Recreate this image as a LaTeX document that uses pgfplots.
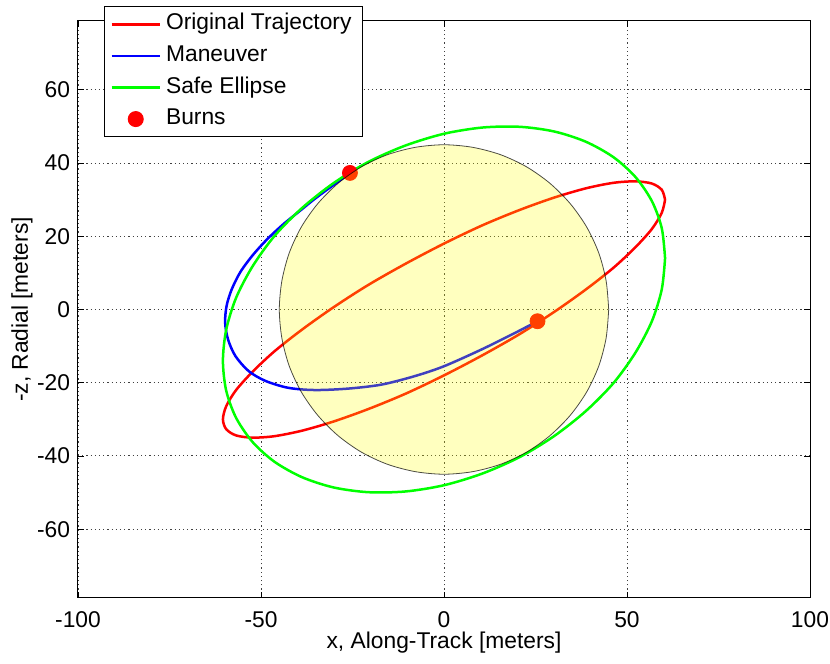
\documentclass[border=0pt]{standalone}
\usepackage{fontspec}
\setmainfont{Liberation Sans}
\usepackage{pgfplots}
\pgfplotsset{compat=1.18}
\begin{document}
\fontsize{11.4}{13.7}\selectfont
\begin{tikzpicture}
\useasboundingbox (-39pt,-33pt) rectangle (376pt,299pt);
\begin{axis}[
  at={(0,0)}, anchor=south west,
  scale only axis, width=366pt, height=288.5pt,
  xmin=-100, xmax=100, ymin=-78.8, ymax=78.8,
  xtick={-100,-50,0,50,100},
  ytick={-60,-40,-20,0,20,40,60},
  /pgf/number format/assume math mode=true,
  tick label style={font=\fontsize{11.4}{13.7}\selectfont},
  xticklabel style={yshift=-3pt},
  tick align=inside, major tick length=3pt,
  tick style={black, line width=0.4pt},
  axis line style={black, line width=0.5pt},
  grid=major,
  major grid style={black!75, line width=0.45pt, dash pattern=on 0.6pt off 1.5pt},
  xlabel={x, Along-Track [meters]},
  ylabel={-z, Radial [meters]},
  label style={font=\fontsize{11.4}{13.7}\selectfont},
  xlabel style={at={(axis description cs:0.5,-0.078)}, anchor=center},
  ylabel style={at={(axis description cs:-0.0765,0.5)}, anchor=center},
  legend style={at={(axis description cs:0.0355,1.026)}, anchor=north west,
    draw=black, line width=0.5pt, fill=white,
    font=\fontsize{11.4}{13.7}\selectfont,
    nodes={text height=8.2pt, text depth=2.5pt, inner sep=2.55pt},
    inner xsep=3pt, inner ysep=1pt},
  legend cell align=left,
  legend image code/.code={\draw[#1,mark repeat=2,mark phase=2] plot coordinates {(0pt,0pt) (12pt,0pt) (24pt,0pt)};},
  clip marker paths=true,
]
% Original trajectory
\addplot[color={rgb,255:red,255;green,0;blue,0}, line width=1.25pt, smooth, no markers] coordinates {
(60.4,30.0) (59.5,32.7) (56.8,34.4) (52.3,35.0) (46.3,34.6) (38.8,33.1) (30.2,30.6) (20.7,27.2) (10.5,23.0)
(0,18.0) (-10.5,12.5) (-20.7,6.7) (-30.2,0.6) (-38.8,-5.5) (-46.3,-11.4) (-52.3,-17.0) (-56.8,-22.0) (-59.5,-26.4)
(-60.4,-30.0) (-59.5,-32.7) (-56.8,-34.4) (-52.3,-35.0) (-46.3,-34.6) (-38.8,-33.1) (-30.2,-30.6) (-20.7,-27.2) (-10.5,-23.0)
(0,-18.0) (10.5,-12.5) (20.7,-6.7) (30.2,-0.6) (38.8,5.5) (46.3,11.4) (52.3,17.0) (56.8,22.0) (59.5,26.4) (60.4,30.0)
};
\addlegendentry{Original Trajectory}
% Maneuver
\addplot[color={rgb,255:red,0;green,0;blue,255}, line width=1.25pt, smooth, no markers] coordinates {
(25.55,-3.2) (19.4,-6.4) (10.3,-10.9) (0,-15.5) (-8,-18.2) (-17,-20.5) (-26.1,-21.6) (-35.2,-22.0)
(-42.5,-21.4) (-48.8,-19.5) (-53.4,-16.8) (-57,-12.7) (-59,-8.2) (-59.8,-3.6) (-59.4,1.0) (-58,5.5)
(-55.6,10.3) (-52.2,14.9) (-48.4,19.1) (-44,23.2) (-39.3,27.0) (-35.6,30.0) (-32,32.7) (-28.8,35.0) (-25.7,37.3)
};
\addlegendentry{Maneuver}
% Safe ellipse
\addplot[color={rgb,255:red,0;green,255;blue,0}, line width=1.25pt, smooth, no markers] coordinates {
(60.4,14.0) (59.5,22.2) (56.8,29.6) (52.3,36.2) (46.3,41.6) (38.8,45.8) (30.2,48.6) (20.7,49.9) (10.5,49.7)
(0,48.0) (-10.5,44.8) (-20.7,40.3) (-30.2,34.5) (-38.8,27.7) (-46.3,20.1) (-52.3,11.8) (-56.8,3.2) (-59.5,-5.5)
(-60.4,-14.0) (-59.5,-22.2) (-56.8,-29.6) (-52.3,-36.2) (-46.3,-41.6) (-38.8,-45.8) (-30.2,-48.6) (-20.7,-49.9) (-10.5,-49.7)
(0,-48.0) (10.5,-44.8) (20.7,-40.3) (30.2,-34.5) (38.8,-27.7) (46.3,-20.1) (52.3,-11.8) (56.8,-3.2) (59.5,5.5) (60.4,14.0)
};
\addlegendentry{Safe Ellipse}
% Burns
\addplot[only marks, mark=*, mark size=3.75pt, color={rgb,255:red,255;green,0;blue,0},
  mark options={draw={rgb,255:red,255;green,0;blue,0}, fill={rgb,255:red,255;green,0;blue,0}}] coordinates {
(-25.7,37.3) (25.55,-3.2)
};
\addlegendentry{Burns}
% Keep-out sphere (semi-transparent, on top)
\addplot[forget plot, smooth, draw=black, draw opacity=0.7, line width=0.4pt,
  fill={rgb,255:red,255;green,255;blue,0}, fill opacity=0.25] coordinates {
(45,0) (44.3,7.8) (42.3,15.4) (39.0,22.5) (34.5,28.9) (28.9,34.5) (22.5,39.0) (15.4,42.3) (7.8,44.3)
(0,45) (-7.8,44.3) (-15.4,42.3) (-22.5,39.0) (-28.9,34.5) (-34.5,28.9) (-39.0,22.5) (-42.3,15.4) (-44.3,7.8)
(-45,0) (-44.3,-7.8) (-42.3,-15.4) (-39.0,-22.5) (-34.5,-28.9) (-28.9,-34.5) (-22.5,-39.0) (-15.4,-42.3) (-7.8,-44.3)
(0,-45) (7.8,-44.3) (15.4,-42.3) (22.5,-39.0) (28.9,-34.5) (34.5,-28.9) (39.0,-22.5) (42.3,-15.4) (44.3,-7.8) (45,0)
} -- cycle;
\end{axis}
\end{tikzpicture}
\end{document}
